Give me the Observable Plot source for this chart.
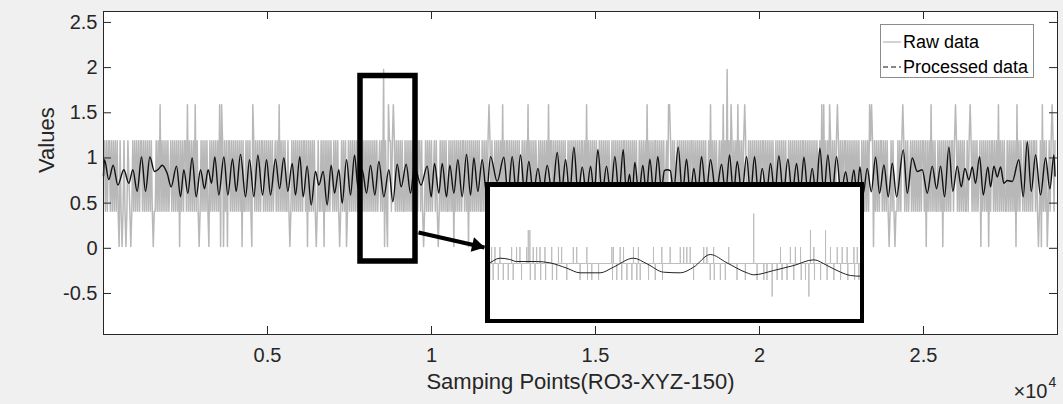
<!DOCTYPE html>
<html>
<head>
<meta charset="utf-8">
<script src="https://cdn.jsdelivr.net/npm/d3@7"></script>
<script src="https://cdn.jsdelivr.net/npm/@observablehq/plot@0.6"></script>
<style>
  html, body { margin: 0; padding: 0; background: #f0f0f0; }
  #wrap { position: relative; width: 1063px; height: 404px; background: #f0f0f0; overflow: hidden; font-family: "Liberation Sans", Arial, sans-serif; }
  #inset { position: absolute; left: 485px; top: 182px; width: 379px; height: 141px; }
  #legend { position: absolute; left: 880px; top: 24px; width: 154px; height: 54px; background: #fff; border: 1px solid #8c8c8c; box-sizing: border-box; }
  #legend .row { position: absolute; left: 0; height: 22px; width: 154px; }
  #legend .lbl { position: absolute; left: 22px; top: 0; font-size: 18px; line-height: 22px; color: #000; white-space: nowrap; }
  #legend svg { position: absolute; left: 2px; top: 0; }
</style>
</head>
<body>
<div id="wrap">
  <div id="inset"></div>
  <div id="legend"></div>
</div>
<script>
// ---------- data ----------
const xTicks = [5000, 10000, 15000, 20000, 25000];
const yTicks = [-0.5, 0, 0.5, 1, 1.5, 2, 2.5];
const xLabel = ["Samping Points(RO3-XYZ-150)"];
const yLabel = ["Values"];
const xScaleText = ["×10"];
const xScaleExp = ["4"];
const legendNames = ["Raw data", "Processed data"];

// raw signal: quantised levels
const levelCodes = ["a", "b", "c", "d", "e", "f"];
const levelValues = [0.02, 0.41, 0.80, 1.19, 1.59, 1.98];
const rawEnd = 29010;
// coarse reading of the dense raw band (one code per ~30 samples)
const rawBand = [
  "cdbdbddbdbdbdbdbbdbdbdbdbdcbdbdbdbdbdbddbdbdbdbdbdbdbbdbdbdbdbdbdbdbcdbdbdbdbdbdbdbddbdbdbdbdbdbdbd",
  "bdbdbdbdbbdbdbdbdbdbdcbdbdbdbddbdbdbdbdbdbdbdbbdbdbdbdbdbdbdbdbddbdbdbdbdbdbcdbdbdbdbdbdbbdbdbdbdbd",
  "bdbdbdbddbdbdbdbdbdbdbdbbdbdbdbdbdbdcbdbdbdbdbdbdbddbdbdbdbdbdbdbdbbdbdbdbdbdbdbdbdbcdbdbdbdbdbddbd",
  "bdbdbdbdbdbbdbdbdbdbdbdbdbddbdbdbdbdbdbdbcdbdbdbdbdbdbdbbdbdbdbdbdbdbdbddbdbdbdbdbdbdbdbdbbdbdbdbd",
  "bdbdbcdbdbdbdbdbdbddbdbdbdbdbdbdbbdbdbdbdbdbdbdbdcbdbdbdbdbdbdbddbdbdbdbdbdbdbdbbdbdbdbdbdbdbdbddbd",
  "bdbdbdbdbdbdbbdbdbdbdbdbdbcdbdbdbdbdbdbddbdbdbdbdbdbdbbdbdbdbdbdbdbdbdbddbdbdbdbdbcdbdbdbdbdbbdbdbd",
  "bdbdbdbdbddbdbdbdbdbdbdbdbbdbdbdbdbdbcdbdbdbdbdbdbddbdbdbdbdbdbdbdbbdbdbdbdbdbdbdbddbdbdbdbdbdbcdbd",
  "bdbdbdbdbbdbdbdbdbdbdbdbddbdbdbdbdbdbdbdcbdbdbdbdbdbbdbdbdbdbdbdbdbddbdbdbdbdbdbdbdbbdbdbdbdbcdbdbd",
  "bdbdbddbdbdbdbdbdbdbdbbdbdbdbdbdbdbcdbdbdbdbdbdbddbdbdbdbdbdbdbbdbdbdbdbdbdbdbddbdbdbdbdbdbdbbdbdbd",
  "bdbdbdbcdbdbdbdbdbdbddbdbdbdbdbdbdbbdbdbdbdbdbdbdbdcbdbdbdbdbdbddbdbdbdbdbdbdbbdbdbdbd"
];
// spikes of the raw data (sample positions)
const spikeHigh = [1738, 2570, 2784, 3537, 3589, 4564, 5366, 8699, 8851, 11748, 12175, 12937, 13559, 14727, 16577, 17236, 17266, 18507, 18882, 19117, 19352, 19544, 21913, 21962, 22136, 22370, 23355, 23407, 24383, 25237, 25977, 26414, 27298, 27859, 28621, 28926];
const spikeTop = [8528, 19002];
const spikeLow = [466, 570, 671, 823, 1503, 2317, 2927, 3211, 3567, 3659, 3772, 4229, 4534, 5671, 6211, 6494, 6738, 7196, 7409, 8567, 8668, 9748, 10214, 10672, 11129, 23468, 23944, 24117, 25093, 25602, 26740, 26993, 27807, 28518, 28600, 28774];

// processed (smoothed) data: turning points [sample, value]
const processed = [
  [0,0.80],[30,0.98],[162,0.76],[295,0.92],[437,0.70],[620,0.87],[772,0.72],[895,0.87],[1026,0.63],[1159,1.01],
  [1281,0.63],[1413,1.01],[1555,0.85],[1687,0.88],[1789,0.92],[1941,0.83],[2063,0.68],[2226,0.91],[2348,0.57],[2449,0.87],
  [2571,0.61],[2703,1.00],[2825,0.57],[2957,0.87],[3079,0.66],[3190,0.87],[3293,0.72],[3394,1.01],[3516,0.59],[3669,1.01],
  [3791,0.59],[3933,0.99],[4045,0.63],[4177,1.04],[4330,0.57],[4452,0.98],[4584,0.57],[4706,1.03],[4850,0.59],[4970,0.98],
  [5092,0.59],[5244,0.985],[5366,0.66],[5498,1.00],[5620,0.63],[5752,0.94],[5854,0.59],[5986,1.015],[6088,0.57],[6209,0.91],
  [6332,0.48],[6464,0.85],[6565,0.70],[6697,0.85],[6819,0.48],[6941,0.92],[7043,0.61],[7175,0.87],[7277,0.50],[7409,0.98],
  [7531,0.59],[7653,1.03],[7765,0.66],[7887,0.87],[8019,0.61],[8141,0.92],[8273,0.59],[8395,0.96],[8547,0.57],[8700,0.87],
  [8822,0.515],[8954,0.93],[9076,0.68],[9228,0.93],[9360,0.61],[9482,0.91],[9680,0.70],[9869,0.91],[9991,0.57],[10092,0.94],
  [10224,0.61],[10326,0.94],[10458,0.57],[10560,0.92],[10681,0.61],[10803,0.98],[10936,0.57],[11068,1.04],[11190,0.59],[11291,1.00],
  [11413,0.63],[11545,0.98],[11680,0.60],[11800,1.015],[12003,0.74],[12206,1.007],[12333,0.60],[12460,1.015],[12587,0.60],[12714,1.033],
  [12841,0.60],[12968,0.96],[13105,0.60],[13243,0.885],[13385,0.60],[13528,0.92],[13680,0.60],[13833,1.06],[13960,0.60],[14087,0.98],
  [14214,0.60],[14341,1.12],[14468,0.60],[14595,0.90],[14722,0.60],[14849,0.91],[14960,0.60],[15071,1.09],[15203,0.60],[15336,0.91],
  [15463,0.60],[15590,1.015],[15717,0.60],[15845,1.09],[15941,0.60],[16037,0.82],[16118,0.60],[16199,0.95],[16321,0.60],[16443,0.92],
  [16550,0.60],[16657,0.985],[16778,0.60],[16900,1.015],[17010,0.65],[17100,0.86],[17187,0.87],[17280,0.86],[17380,0.62],[17522,1.12],
  [17650,0.60],[17775,0.985],[17887,0.60],[17998,0.885],[18115,0.60],[18233,1.015],[18370,0.60],[18507,0.98],[18675,0.60],[18843,0.93],
  [18965,0.60],[19087,1.033],[19204,0.60],[19321,0.96],[19463,0.60],[19605,1.015],[19727,0.60],[19849,1.015],[19966,0.60],[20083,0.885],
  [20210,0.60],[20337,0.94],[20464,0.60],[20591,1.022],[20728,0.60],[20865,0.985],[20997,0.60],[21130,0.94],[21241,0.60],[21353,1.007],
  [21480,0.60],[21607,0.885],[21724,0.60],[21841,1.107],[21962,0.60],[22084,1.033],[22216,0.60],[22349,1.015],[22486,0.60],[22624,0.848],
  [22750,0.60],[22877,0.867],[22970,0.60],[23061,0.904],[23160,0.60],[23285,0.885],[23407,0.626],[23539,1.007],[23661,0.608],[23792,0.922],
  [23926,0.57],[24048,0.941],[24179,0.57],[24383,1.09],[24505,0.61],[24657,1.00],[24809,0.85],[24961,0.87],[25114,0.61],[25266,0.91],
  [25398,0.66],[25520,0.91],[25642,0.57],[25773,1.12],[25895,0.63],[26029,0.91],[26151,0.68],[26261,0.885],[26383,0.756],[26486,0.90],
  [26587,0.72],[26709,1.015],[26822,0.59],[26962,0.90],[27044,0.68],[27145,0.91],[27249,0.79],[27350,0.90],[27450,0.72],[27553,0.75],
  [27706,0.74],[27907,0.98],[28041,0.57],[28163,1.18],[28285,0.63],[28416,1.033],[28569,0.59],[28721,1.00],[28853,0.66],[28975,1.033],
  [29010,0.80]
];

// zoomed window & arrow annotation (data units)
const zoomWindow = [{x1: 7835, x2: 9512, y1: -0.146, y2: 1.907}];
const zoomArrow = [{x1: 9604, y1: 0.175, x2: 11616, y2: 0.009}];

// inset (magnified window) data
const insetDomainX = [7833, 9516];
const insetDomainY = [-0.618, 2.715];
const zoomBase = 0.80;
const zoomUp = [7845,7860,7875,7897,7949,7971,7986,8016,8045,8060,8075,8097,8127,8157,8171,8223,8238,8283,8394,8401,8431,8446,8490,8512,8579,8616,8653,8698,8713,8727,8742,8802,8816,8846,8913,9143,9187,9209,9232,9291,9365,9395,9417,9439,9469,9484];
const zoomUp2 = [8023, 8030, 9276, 9343];
const zoomTop = [9024];
const zoomDown = [7852,7867,7890,7912,7934,7956,7993,8032,8053,8078,8100,8130,8149,8194,8253,8286,8305,8335,8397,8416,8438,8461,8483,8505,8520,8557,8587,8619,8757,8831,8849,8876,8898,8950,8987,9039,9069,9083,9128,9150,9172,9202,9235,9254,9294,9321,9350,9380,9410,9442,9472,9491];
const zoomBottom = [9106, 9269];
const zoomProcessed = [
  [7833,0.79],[7838,0.793],[7897,0.926],[7941,0.895],[7971,0.847],[8060,0.847],[8119,0.816],[8194,0.69],[8253,0.58],[8342,0.58],
  [8401,0.713],[8490,0.926],[8550,0.793],[8624,0.595],[8698,0.58],[8757,0.713],[8831,1.013],[8905,0.816],[8994,0.58],[9024,0.533],
  [9113,0.635],[9202,0.753],[9291,0.888],[9350,0.753],[9410,0.595],[9454,0.517],[9499,0.50],[9516,0.50]
];

// ---------- build tables ----------
const bandCodes = rawBand.join("").split("");
const rawStep = rawEnd / (bandCodes.length - 1);
for (const s of spikeHigh) bandCodes[Math.round(s / rawStep)] = "e";
for (const s of spikeTop) bandCodes[Math.round(s / rawStep)] = "f";
for (const s of spikeLow) bandCodes[Math.round(s / rawStep)] = "a";
const raw = bandCodes.map((c, i) => ({x: i * rawStep, y: levelValues[levelCodes.indexOf(c)]}));
const proc = processed.map(([x, y]) => ({x, y}));

const events = [];
for (const s of zoomUp) events.push([s, levelValues[3]]);
for (const s of zoomUp2) events.push([s, levelValues[4]]);
for (const s of zoomTop) events.push([s, levelValues[5]]);
for (const s of zoomDown) events.push([s, levelValues[1]]);
for (const s of zoomBottom) events.push([s, levelValues[0]]);
events.sort((a, b) => a[0] - b[0]);
const zoomRaw = [{x: insetDomainX[0], y: zoomBase}];
for (const [s, v] of events) {
  zoomRaw.push({x: s - 0.4, y: zoomBase}, {x: s, y: v}, {x: s + 0.4, y: zoomBase});
}
zoomRaw.push({x: insetDomainX[1], y: zoomBase});
const zoomProc = zoomProcessed.map(([x, y]) => ({x, y}));

// ---------- main chart ----------
const font = "'Liberation Sans', Arial, Helvetica, sans-serif";
const axisColor = "#262626";
const main = Plot.plot({
  width: 1063,
  height: 404,
  marginLeft: 103,
  marginRight: 6,
  marginTop: 11,
  marginBottom: 70,
  style: {background: "transparent", fontFamily: font, overflow: "visible"},
  x: {domain: [0, 29085]},
  y: {domain: [-0.954, 2.621]},
  marks: [
    Plot.frame({fill: "white", stroke: "none"}),
    Plot.line(raw, {x: "x", y: "y", stroke: "#b8b8b8", strokeWidth: 1.5, strokeLinejoin: "round"}),
    Plot.line(proc, {x: "x", y: "y", stroke: "#111", strokeWidth: 1.4, curve: "monotone-x"}),
    Plot.rect(zoomWindow, {x1: "x1", x2: "x2", y1: "y1", y2: "y2", fill: "none", stroke: "#000", strokeWidth: 5.5}),
    Plot.link(zoomArrow, {x1: "x1", y1: "y1", x2: "x2", y2: "y2", stroke: "#000", strokeWidth: 4}),
    Plot.dot(zoomArrow, {x: "x2", y: "y2", symbol: "triangle", r: 5.5, fill: "#000", stroke: "none", rotate: 103, dx: -8, dy: -2}),
    Plot.frame({stroke: axisColor, strokeWidth: 1}),
    // inward ticks on all four sides
    Plot.ruleX(xTicks, {x: d => d, insetTop: 315, stroke: axisColor}),
    Plot.ruleX(xTicks, {x: d => d, insetBottom: 315, stroke: axisColor}),
    Plot.ruleY(yTicks, {y: d => d, insetRight: 946, stroke: axisColor}),
    Plot.ruleY(yTicks, {y: d => d, insetLeft: 946, stroke: axisColor}),
    Plot.axisX(xTicks, {tickSize: 0, tickPadding: 13, tickFormat: d => String(d / 1e4), fontSize: 20, fill: axisColor, label: null}),
    Plot.axisY(yTicks, {tickSize: 0, tickPadding: 6, tickFormat: d => String(d), fontSize: 20, fill: axisColor, label: null}),
    Plot.text(yLabel, {text: d => d, frameAnchor: "left", dx: -57, rotate: -90, fontSize: 22, fill: axisColor}),
    Plot.text(xLabel, {text: d => d, frameAnchor: "bottom", dy: 54, fontSize: 22, fill: axisColor}),
    Plot.text(xScaleText, {text: d => d, frameAnchor: "bottom-right", dx: -10, dy: 63, textAnchor: "end", fontSize: 20, fill: axisColor}),
    Plot.text(xScaleExp, {text: d => d, frameAnchor: "bottom-right", dx: -9, dy: 52, textAnchor: "start", fontSize: 14, fill: axisColor})
  ]
});
const wrap = document.getElementById("wrap");
wrap.insertBefore(main, wrap.firstChild);

// ---------- inset ----------
const inset = Plot.plot({
  width: 379,
  height: 141,
  margin: 0,
  style: {background: "white"},
  x: {domain: insetDomainX, axis: null},
  y: {domain: insetDomainY, axis: null},
  marks: [
    Plot.line(zoomRaw, {x: "x", y: "y", stroke: "#bdbdbd", strokeWidth: 1}),
    Plot.line(zoomProc, {x: "x", y: "y", stroke: "#222", strokeWidth: 1, curve: "monotone-x"}),
    Plot.frame({stroke: "#000", strokeWidth: 9})
  ]
});
document.getElementById("inset").appendChild(inset);

// ---------- legend ----------
const legend = document.getElementById("legend");
legendNames.forEach((name, i) => {
  const row = document.createElement("div");
  row.className = "row";
  row.style.top = (6 + i * 25) + "px";
  const dash = i === 1 ? 'stroke-dasharray="5,3"' : "";
  const col = i === 1 ? "#111" : "#b4b4b4";
  row.innerHTML = `<svg width="18" height="22"><line x1="0" x2="18" y1="11" y2="11" stroke="${col}" stroke-width="1.2" ${dash}/></svg><span class="lbl">${name}</span>`;
  legend.appendChild(row);
});
</script>
</body>
</html>
